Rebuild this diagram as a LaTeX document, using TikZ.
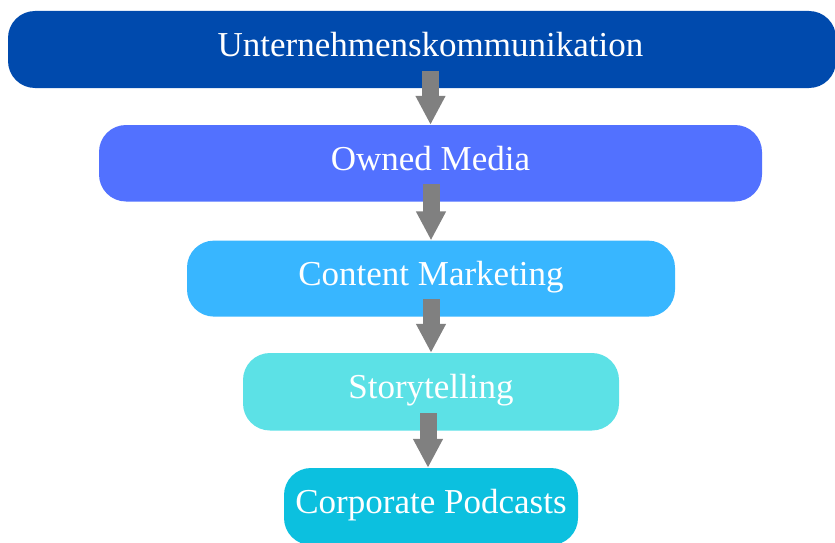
\documentclass[tikz,border=0pt]{standalone}
\usepackage{fontspec}
\setmainfont{Liberation Serif}
\usetikzlibrary{arrows.meta}

\definecolor{boxA}{HTML}{004AAD}
\definecolor{boxB}{HTML}{5271FF}
\definecolor{boxC}{HTML}{38B6FF}
\definecolor{boxD}{HTML}{5CE1E6}
\definecolor{boxE}{HTML}{0CC0DF}
\definecolor{arrowgray}{HTML}{808080}

\tikzset{
  levelbox/.style={rounded corners=27pt, draw=none, inner sep=0pt,
    text=white, font=\fontsize{35}{42}\selectfont,
    text height=24pt, text depth=10pt},
  downarrow/.style={arrowgray, line width=17pt,
    -{Triangle[length=29pt,width=28pt]}}
}

\begin{document}
\begin{tikzpicture}[x=1pt,y=-1pt]
  \useasboundingbox (0,0) rectangle (835,543);

  % hierarchy levels, widest at the top
  \node[levelbox, fill=boxA, minimum width=828pt, minimum height=77pt,
        label={[levelbox, xshift=8.5pt]center:Unternehmenskommunikation}]
        (uk) at (422,49.5) {};
  \node[levelbox, fill=boxB, minimum width=663pt, minimum height=76.5pt]
        (om) at (430.5,163.25) {Owned Media};
  \node[levelbox, fill=boxC, minimum width=488pt, minimum height=76pt]
        (cm) at (431,278.6) {Content Marketing};
  \node[levelbox, fill=boxD, minimum width=376pt, minimum height=77.5pt]
        (st) at (431,391.75) {Storytelling};
  \node[levelbox, fill=boxE, minimum width=294pt, minimum height=77pt]
        (cp) at (431,506.5) {Corporate Podcasts};

  % block arrows between the levels
  \draw[downarrow] ([yshift=17.5pt]om.north |- uk.south) -- (om.north);
  \draw[downarrow] ([yshift=17.5pt]cm.north |- om.south) -- (cm.north);
  \draw[downarrow] ([yshift=17.5pt]st.north |- cm.south) -- (st.north);
  \draw[downarrow] ([xshift=-3pt,yshift=17.5pt]cp.north |- st.south) -- ([xshift=-3pt]cp.north);
\end{tikzpicture}
\end{document}
